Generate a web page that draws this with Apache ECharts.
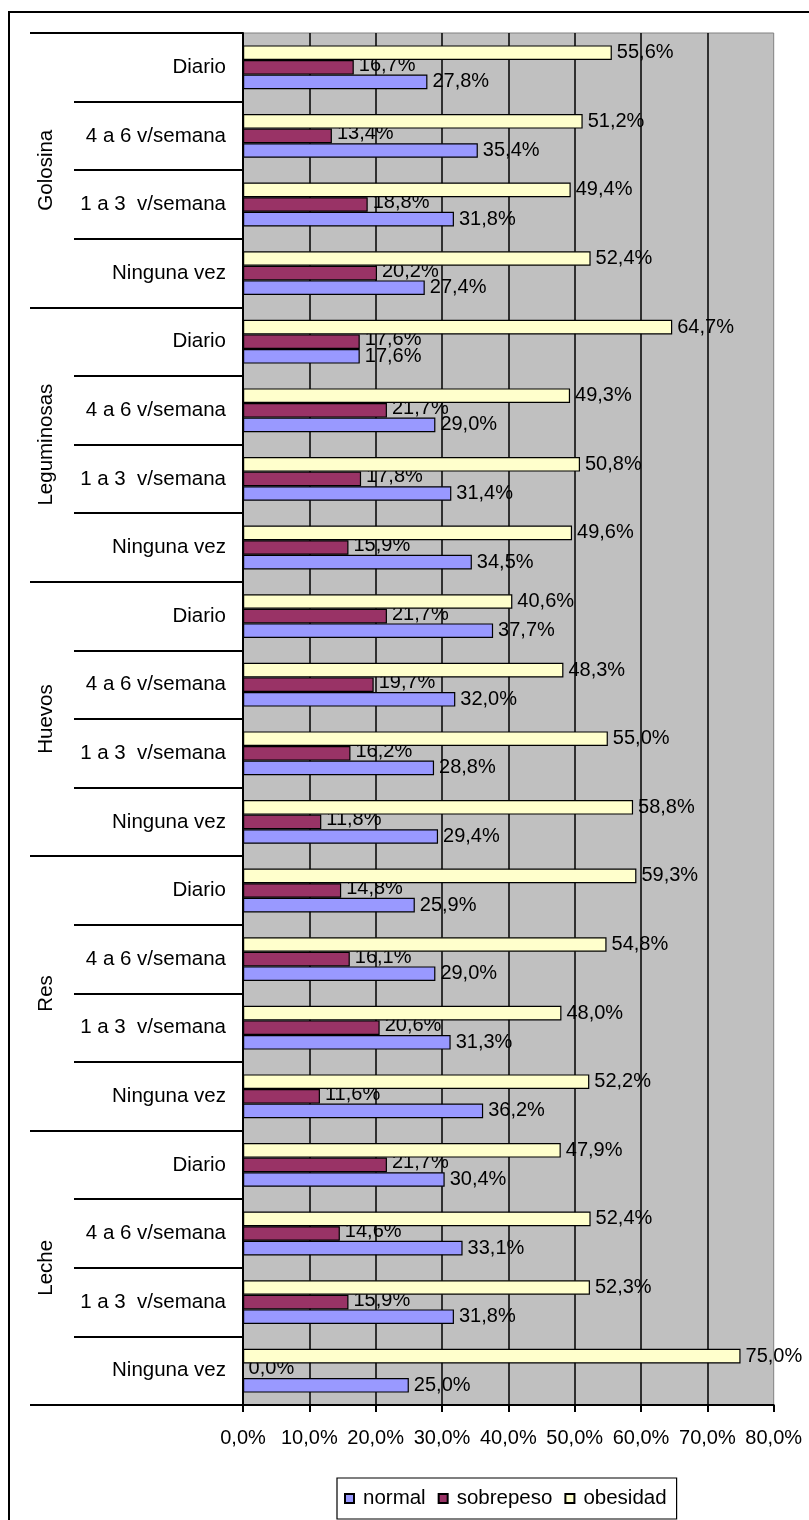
<!DOCTYPE html>
<html>
<head>
<meta charset="utf-8">
<script src="https://cdn.jsdelivr.net/npm/echarts@6/dist/echarts.min.js"></script>
<style>
  html, body { margin: 0; padding: 0; background: #ffffff; }
  #chart { width: 809px; height: 1520px; }
</style>
</head>
<body>
<div id="chart"></div>
<script>
// Food groups (outer category level), listed top to bottom
const groups = ['Golosina', 'Leguminosas', 'Huevos', 'Res', 'Leche'];
// Frequency of consumption (inner category level), repeated within each group
const frequencies = ['Diario', '4 a 6 v/semana', '1 a 3  v/semana', 'Ninguna vez'];

// Percentages per group, in the same order as `frequencies`
const normal = [
  27.8, 35.4, 31.8, 27.4,   // Golosina
  17.6, 29.0, 31.4, 34.5,   // Leguminosas
  37.7, 32.0, 28.8, 29.4,   // Huevos
  25.9, 29.0, 31.3, 36.2,   // Res
  30.4, 33.1, 31.8, 25.0    // Leche
];
const sobrepeso = [
  16.7, 13.4, 18.8, 20.2,
  17.6, 21.7, 17.8, 15.9,
  21.7, 19.7, 16.2, 11.8,
  14.8, 16.1, 20.6, 11.6,
  21.7, 14.6, 15.9, 0.0
];
const obesidad = [
  55.6, 51.2, 49.4, 52.4,
  64.7, 49.3, 50.8, 49.6,
  40.6, 48.3, 55.0, 58.8,
  59.3, 54.8, 48.0, 52.2,
  47.9, 52.4, 52.3, 75.0
];
const seriesNames = ['normal', 'sobrepeso', 'obesidad'];
const xTicks = { min: 0, max: 80, step: 10 };

const FONT = "'Liberation Sans', Arial, sans-serif";
const pct = v => Number(v).toFixed(1).replace('.', ',') + '%';

// Flatten the two-level category axis
const rows = [];
groups.forEach(() => frequencies.forEach(f => rows.push(f)));

const chart = echarts.init(document.getElementById('chart'), null, { renderer: 'canvas' });

function barSeries(name, data, color, z, labelOffset) {
  return {
    name: name,
    type: 'bar',
    data: data,
    z: z,
    barWidth: '21.3%',
    barGap: '0%',
    itemStyle: { color: color, borderColor: '#000000', borderWidth: 1.2 },
    label: {
      show: true,
      position: 'right',
      distance: 5,
      offset: labelOffset,
      color: '#000000',
      fontFamily: FONT,
      fontSize: 20,
      formatter: p => pct(p.value)
    },
    emphasis: { disabled: true },
    animation: false
  };
}

chart.setOption({
  backgroundColor: '#ffffff',
  animation: false,
  textStyle: { fontFamily: FONT },
  graphic: [{
    type: 'rect',
    shape: { x: 9, y: 12, width: 900, height: 1600 },
    style: { fill: null, stroke: '#000000', lineWidth: 2 },
    silent: true
  }],
  grid: {
    left: 243, top: 33, right: 35.3, bottom: 115,
    show: true,
    backgroundColor: '#C0C0C0',
    borderColor: '#808080',
    borderWidth: 1
  },
  legend: {
    data: seriesNames,
    left: 337,
    top: 1478,
    orient: 'horizontal',
    itemWidth: 9,
    itemHeight: 9,
    itemGap: 12,
    icon: 'rect',
    borderColor: '#000000',
    borderWidth: 1.2,
    padding: [10, 10, 10, 7],
    textStyle: { fontFamily: FONT, fontSize: 20.5, color: '#000000', padding: [0, 0, 0, 4] }
  },
  xAxis: {
    type: 'value',
    min: xTicks.min,
    max: xTicks.max,
    interval: xTicks.step,
    axisLine: { show: true, lineStyle: { color: '#000000', width: 2 } },
    axisTick: { show: true, length: 7, lineStyle: { color: '#000000', width: 2 } },
    axisLabel: {
      formatter: v => pct(v),
      fontFamily: FONT, fontSize: 20, color: '#000000', margin: 23
    },
    splitLine: { show: true, showMaxLine: false, lineStyle: { color: '#000000', width: 1.5 } }
  },
  yAxis: [
    {
      type: 'category',
      data: rows,
      inverse: true,
      position: 'left',
      axisLine: { show: true, lineStyle: { color: '#000000', width: 2 } },
      axisTick: { show: true, length: 169, lineStyle: { color: '#000000', width: 2 } },
      axisLabel: { fontFamily: FONT, fontSize: 20.5, color: '#000000', margin: 17, interval: 0 },
      splitLine: { show: false }
    },
    {
      type: 'category',
      data: groups,
      inverse: true,
      position: 'left',
      axisLine: { show: false },
      axisTick: { show: true, length: 213, lineStyle: { color: '#000000', width: 2 } },
      axisLabel: { rotate: 90, fontFamily: FONT, fontSize: 20.5, color: '#000000', margin: 186, interval: 0 },
      splitLine: { show: false }
    }
  ],
  // With the inverted category axis the first series sits on top of each group
  series: [
    barSeries(seriesNames[2], obesidad, '#FFFFCC', 3, [0, 0]),
    barSeries(seriesNames[1], sobrepeso, '#993366', 2, [0, -2]),
    barSeries(seriesNames[0], normal, '#9999FF', 4, [0, 0])
  ]
});
</script>
</body>
</html>
